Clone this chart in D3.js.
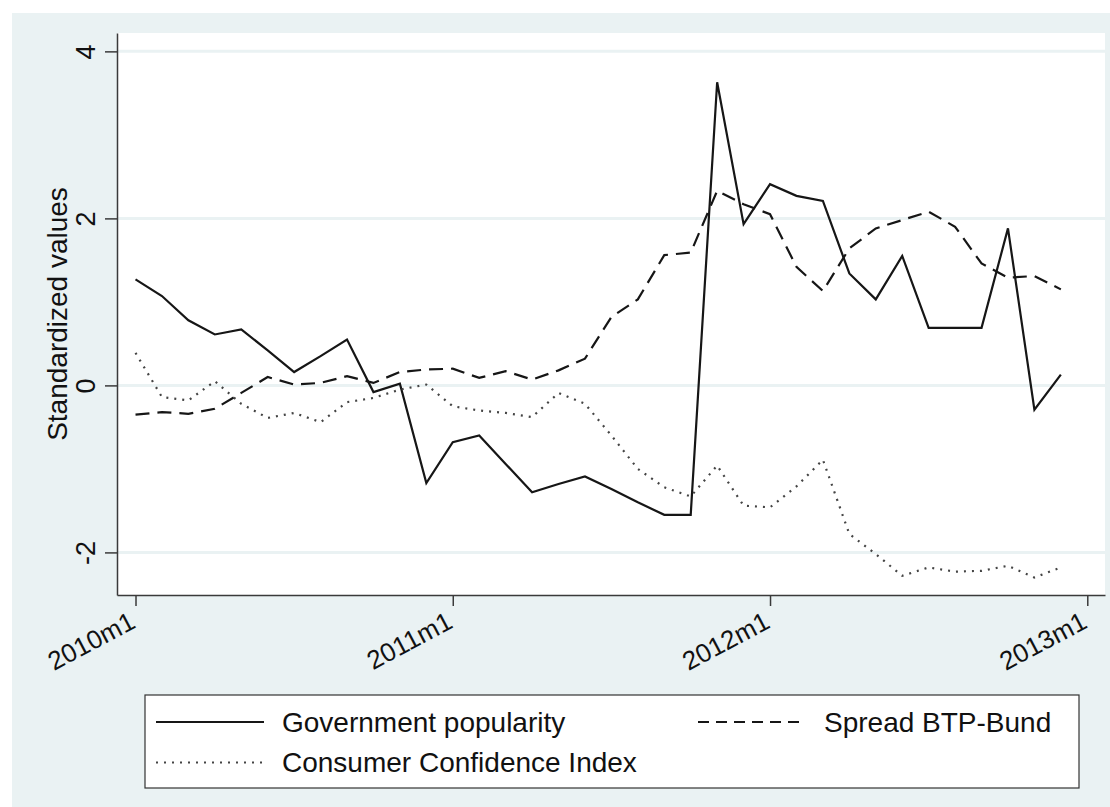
<!DOCTYPE html>
<html>
<head>
<meta charset="utf-8">
<script src="https://cdn.jsdelivr.net/npm/d3@7"></script>
<style>
  body { margin: 0; background: #ffffff; }
  svg { display: block; font-family: "Liberation Sans", Arial, Helvetica, sans-serif; }
  .eixo path, .eixo line { stroke: #3a3a3a; stroke-width: 1.5; }
  .eixo text { fill: #111; font-size: 27px; }
  .legenda text { fill: #111; font-size: 28px; }
</style>
</head>
<body>
<svg id="grafico"></svg>
<script>
// month labels on the x axis (index 0 = 2010m1)
var rotulosX = ['2010m1', '2011m1', '2012m1', '2013m1'];
var posicoesX = [0, 12, 24, 36];
var ticksY = [-2, 0, 2, 4];

// monthly standardized values, 2010m1 .. 2012m12
var governo = [1.27, 1.07, 0.78, 0.61, 0.67, 0.42, 0.16, 0.35, 0.55, -0.08, 0.02, -1.17,
               -0.68, -0.60, -0.94, -1.28, -1.18, -1.09, -1.24, -1.40, -1.55, -1.55, 3.63, 1.93,
               2.41, 2.27, 2.21, 1.34, 1.03, 1.55, 0.69, 0.69, 0.69, 1.88, -0.29, 0.13];
var spread = [-0.35, -0.32, -0.34, -0.28, -0.09, 0.10, 0.01, 0.03, 0.11, 0.03, 0.16, 0.19,
              0.20, 0.09, 0.17, 0.07, 0.18, 0.32, 0.82, 1.03, 1.56, 1.59, 2.33, 2.17,
              2.05, 1.42, 1.13, 1.64, 1.88, 1.98, 2.08, 1.90, 1.46, 1.29, 1.31, 1.15];
var confianca = [0.39, -0.14, -0.18, 0.05, -0.22, -0.39, -0.33, -0.44, -0.20, -0.15, -0.05, 0.01,
                 -0.25, -0.30, -0.33, -0.38, -0.09, -0.22, -0.60, -1.00, -1.22, -1.33, -0.96, -1.44,
                 -1.46, -1.21, -0.89, -1.78, -2.02, -2.28, -2.18, -2.23, -2.22, -2.16, -2.30, -2.18];

var largura = 1110, altura = 807;
var svg = d3.select('#grafico').attr('width', largura).attr('height', altura);

// outer background (Stata s2color style)
svg.append('rect')
   .attr('x', 12).attr('y', 13)
   .attr('width', largura - 12).attr('height', altura - 13)
   .attr('fill', '#eaf2f3');

var area = { esquerda: 117, direita: 1105, superior: 33, inferior: 595 };

svg.append('rect')
   .attr('x', area.esquerda).attr('y', area.superior)
   .attr('width', area.direita - area.esquerda)
   .attr('height', area.inferior - area.superior)
   .attr('fill', '#ffffff');

// scales
var x = d3.scaleLinear().domain([-0.70, 36.67]).range([area.esquerda, area.direita]);
var y = d3.scaleLinear().domain([-2.51, 4.22]).range([area.inferior, area.superior]);

// grid lines
svg.append('g').selectAll('line')
   .data(ticksY)
   .enter().append('line')
   .attr('x1', area.esquerda).attr('x2', area.direita)
   .attr('y1', d => y(d)).attr('y2', d => y(d))
   .attr('stroke', '#eaf2f3')
   .attr('stroke-width', 3);

// series
var series = [
  { nome: 'Government popularity', valores: governo, traco: null, cor: '#161616', espessura: 2.2 },
  { nome: 'Spread BTP-Bund', valores: spread, traco: '14,8', cor: '#161616', espessura: 2.2 },
  { nome: 'Consumer Confidence Index', valores: confianca, traco: '2,6', cor: '#444444', espessura: 2.2 }
];

var linha = d3.line()
              .x((d, i) => x(i))
              .y(d => y(d));

svg.append('g').selectAll('path')
   .data(series)
   .enter().append('path')
   .attr('d', d => linha(d.valores))
   .attr('fill', 'none')
   .attr('stroke', d => d.cor)
   .attr('stroke-width', d => d.espessura)
   .attr('stroke-dasharray', d => d.traco)
   .attr('stroke-linejoin', 'miter');

// y axis
var eixoY = d3.axisLeft(y).tickValues(ticksY).tickSize(12).tickSizeOuter(0).tickFormat(d3.format('d'));
var gy = svg.append('g')
            .attr('class', 'eixo')
            .attr('transform', 'translate(' + area.esquerda + ',0)')
            .call(eixoY);
gy.selectAll('text')
  .attr('x', null).attr('dy', null)
  .attr('text-anchor', 'middle')
  .attr('transform', 'translate(-22.5,0) rotate(-90)')
  .text(d => d < 0 ? '-' + Math.abs(d) : d);

// x axis
var eixoX = d3.axisBottom(x).tickValues(posicoesX).tickSize(11).tickSizeOuter(0)
              .tickFormat((d, i) => rotulosX[i]);
var gx = svg.append('g')
            .attr('class', 'eixo')
            .attr('transform', 'translate(0,' + area.inferior + ')')
            .call(eixoX);
gx.selectAll('text')
  .attr('y', null).attr('dy', null)
  .attr('text-anchor', 'end')
  .style('font-size', '26px')
  .attr('transform', 'translate(1,32) rotate(-28)');

// y axis title
svg.append('text')
   .attr('transform', 'translate(66.5,' + ((area.superior + area.inferior) / 2) + ') rotate(-90)')
   .attr('text-anchor', 'middle')
   .style('font-size', '28px')
   .attr('fill', '#111')
   .text('Standardized values');

// legend
var legenda = svg.append('g').attr('class', 'legenda');
legenda.append('rect')
       .attr('x', 145).attr('y', 695)
       .attr('width', 934).attr('height', 93)
       .attr('fill', '#ffffff')
       .attr('stroke', '#333')
       .attr('stroke-width', 1.2);

var itens = [
  { serie: series[0], x: 156, y: 722 },
  { serie: series[1], x: 698, y: 722 },
  { serie: series[2], x: 156, y: 762.5 }
];
var item = legenda.selectAll('.item')
                  .data(itens)
                  .enter().append('g')
                  .attr('class', 'item')
                  .attr('transform', d => 'translate(' + d.x + ',' + d.y + ')');
item.append('line')
    .attr('x1', 0).attr('x2', 108)
    .attr('y1', 0).attr('y2', 0)
    .attr('stroke', d => d.serie.cor)
    .attr('stroke-width', 2.2)
    .attr('stroke-dasharray', d => d.serie.traco === '14,8' ? '11,7' : d.serie.traco);
item.append('text')
    .attr('x', 126)
    .attr('dy', '0.35em')
    .text(d => d.serie.nome);
</script>
</body>
</html>
